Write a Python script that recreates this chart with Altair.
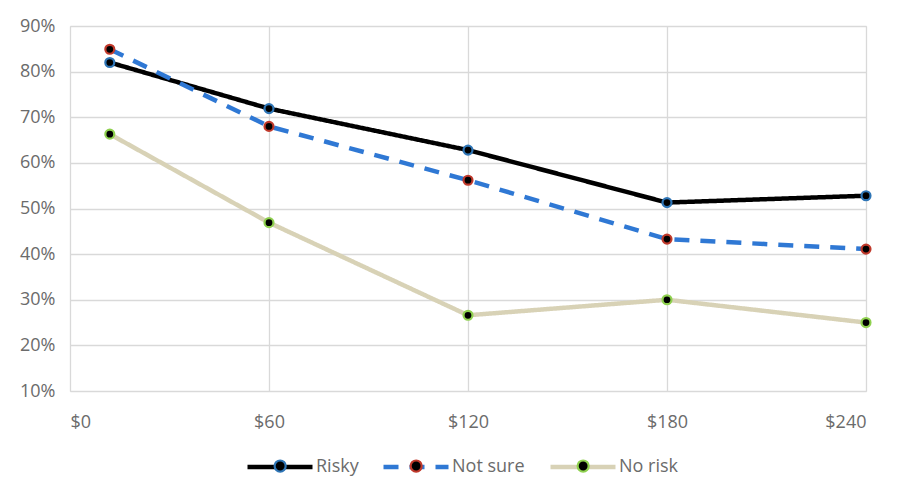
import altair as alt
import pandas as pd

# ---- data ----
prices = [12, 60, 120, 180, 240]
series_names = ["Risky", "Not sure", "No risk"]
risky = [82.0, 71.9, 62.8, 51.3, 52.8]
not_sure = [84.9, 68.0, 56.2, 43.3, 41.1]
no_risk = [66.3, 46.9, 26.6, 30.0, 25.0]
x_ticks = [0, 60, 120, 180, 240]
y_ticks = [10, 20, 30, 40, 50, 60, 70, 80, 90]

line_colors = ["#000000", "#2f78d4", "#d8d2b6"]
edge_colors = ["#2e75b6", "#c0392b", "#8fd14f"]
dashes = [[1, 0], [15, 11], [1, 0]]
# legend entry x offsets (relative to the plot's left edge)
legend_x = [175, 311, 478]

rows = []
for name, vals in zip(series_names, [risky, not_sure, no_risk]):
    for p, v in zip(prices, vals):
        rows.append({"price": p, "share": v, "series": name})
df = pd.DataFrame(rows)

FONT = "Open Sans"
LABEL = "#6b6b6b"
AX_FS = 18
SYM = 4225
LEG_Y = 406
LINE_W = 4.5
DOT_W = 2.2

x_enc = alt.X(
    "price:Q",
    scale=alt.Scale(domain=[0, 240], nice=False, zero=False),
    axis=alt.Axis(
        values=x_ticks, labelExpr="'$' + datum.value", title=None,
        grid=True, gridColor="#d9d9d9", gridWidth=1.3, domain=False, ticks=False,
        labelPadding=22, labelFont=FONT, labelFontSize=AX_FS, labelColor=LABEL,
    ),
)
y_enc = alt.Y(
    "share:Q",
    scale=alt.Scale(domain=[10, 90], nice=False, zero=False),
    axis=alt.Axis(
        values=y_ticks, labelExpr="datum.value + '%'", title=None,
        grid=True, gridColor="#d9d9d9", gridWidth=1.3, domain=False, ticks=False,
        labelPadding=15, labelFont=FONT, labelFontSize=AX_FS, labelColor=LABEL,
    ),
)

dot_path = "M0.17,0A0.17,0.17 0 1,1 -0.17,0A0.17,0.17 0 1,1 0.17,0Z"

line_layers = []
point_layers = []
for i, (name, lc, edge, dash, lx) in enumerate(
    zip(series_names, line_colors, edge_colors, dashes, legend_x)
):
    leg = alt.Legend(
        title=None, orient="none", direction="horizontal",
        legendX=lx, legendY=LEG_Y, symbolSize=SYM,
        symbolType="M-1,0H1", symbolStrokeWidth=LINE_W,
        labelFont=FONT, labelFontSize=AX_FS, labelColor=LABEL,
        labelOffset=1,
    )
    base = alt.Chart(df).transform_filter(alt.datum.series == name)
    line_layers.append(
        base.mark_line(strokeWidth=LINE_W, strokeCap="butt").encode(
            x=x_enc if i == 0 else alt.X("price:Q"),
            y=y_enc if i == 0 else alt.Y("share:Q"),
            color=alt.Color("series:N", scale=alt.Scale(domain=[name], range=[lc]), legend=leg),
            strokeDash=alt.StrokeDash("series:N", scale=alt.Scale(domain=[name], range=[dash]), legend=leg),
        )
    )
    point_layers.append(
        base.mark_point(filled=True, shape="circle", size=80, strokeWidth=DOT_W,
                        opacity=1, fillOpacity=1, fill="#000000")
        .encode(
            x="price:Q",
            y="share:Q",
            stroke=alt.Stroke(
                "series:N",
                scale=alt.Scale(domain=[name], range=[edge]),
                legend=alt.Legend(
                    title=None, orient="none", direction="horizontal",
                    legendX=lx + (LINE_W - DOT_W) / 2, legendY=LEG_Y, symbolSize=SYM,
                    symbolType=dot_path, symbolStrokeWidth=DOT_W,
                    symbolFillColor="#000000", labelExpr="''", labelOffset=0,
                ),
            ),
        )
    )

chart = (
    alt.layer(*line_layers, *point_layers)
    .resolve_scale(color="independent", stroke="independent",
                   strokeDash="independent")
    .resolve_legend(color="independent", stroke="independent",
                    strokeDash="independent")
    .properties(
        width=796,
        height=365,
        autosize=alt.AutoSizeParams(type="none"),
        padding={"left": 62, "top": 18, "right": 43, "bottom": 101},
    )
    .configure_view(stroke=None)
    .configure(background="white")
)

chart.save("out.html", embed_options={"renderer": "svg", "actions": False})
